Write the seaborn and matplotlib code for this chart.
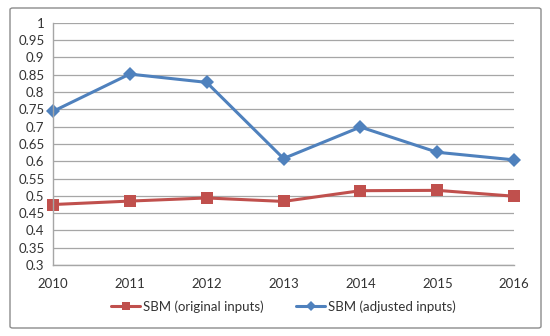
import pandas as pd
import matplotlib
matplotlib.use("Agg")
import matplotlib.pyplot as plt
from matplotlib.patches import FancyBboxPatch
import seaborn as sns

years = [2010, 2011, 2012, 2013, 2014, 2015, 2016]
sbm_original = [0.475, 0.485, 0.494, 0.484, 0.515, 0.516, 0.499]
sbm_adjusted = [0.744, 0.852, 0.828, 0.608, 0.699, 0.626, 0.604]
series_names = ["SBM (original inputs)", "SBM (adjusted inputs)"]

df = pd.DataFrame({
    "year": years * 2,
    "value": sbm_original + sbm_adjusted,
    "series": [series_names[0]] * len(years) + [series_names[1]] * len(years),
})

sns.set_style("white")
plt.rcParams["font.family"] = ["Lato", "DejaVu Sans"]

fig = plt.figure(figsize=(5.5, 3.36), dpi=100)
ax = fig.add_axes([0.096, 0.211, 0.839, 0.721])

palette = {series_names[0]: "#C0504D", series_names[1]: "#4F81BD"}
markers = {series_names[0]: "s", series_names[1]: "D"}
sns.lineplot(data=df, x="year", y="value", hue="series", style="series",
             palette=palette, markers=markers, dashes=False, linewidth=2.2,
             markersize=7, markeredgewidth=0, ax=ax, legend=True)
for line in ax.lines:
    if line.get_marker() == "s":
        line.set_markersize(8.5)
    line.set_clip_on(False)

ax.set_xlim(2010, 2016)
ax.set_ylim(0.3, 1.0)
ax.set_xticks(years)
ax.set_xticklabels([str(y) for y in years])
yt = [0.3 + 0.05 * i for i in range(15)]
ax.set_yticks(yt)
ax.set_yticklabels([f"{v:g}" for v in [round(t, 2) for t in yt]])
ax.yaxis.grid(True, color="#A6A6A6", linewidth=0.9)
ax.set_axisbelow(True)
for s in ["top", "right"]:
    ax.spines[s].set_visible(False)
for s in ["left", "bottom"]:
    ax.spines[s].set_color("#A6A6A6")
    ax.spines[s].set_linewidth(1)
ax.tick_params(axis="both", length=0, labelsize=9.5, colors="#333333")
ax.tick_params(axis="y", pad=6)
ax.tick_params(axis="x", pad=9)
ax.set_xlabel("")
ax.set_ylabel("")

handles, labels = ax.get_legend_handles_labels()
leg = ax.legend(handles, labels, loc="upper center", bbox_to_anchor=(0.5, -0.095),
                ncol=2, frameon=False, fontsize=9.5, handlelength=2.2,
                columnspacing=2.5, handletextpad=0.2, markerscale=0.7)
for t in leg.get_texts():
    t.set_color("#333333")

border = FancyBboxPatch((10 / 550, 8 / 336), 531 / 550, 320 / 336,
                        boxstyle="round,pad=0,rounding_size=0.005",
                        transform=fig.transFigure, fill=False,
                        edgecolor="#8C8C8C", linewidth=1)
fig.patches.append(border)

fig.savefig("out.png", dpi=100)
